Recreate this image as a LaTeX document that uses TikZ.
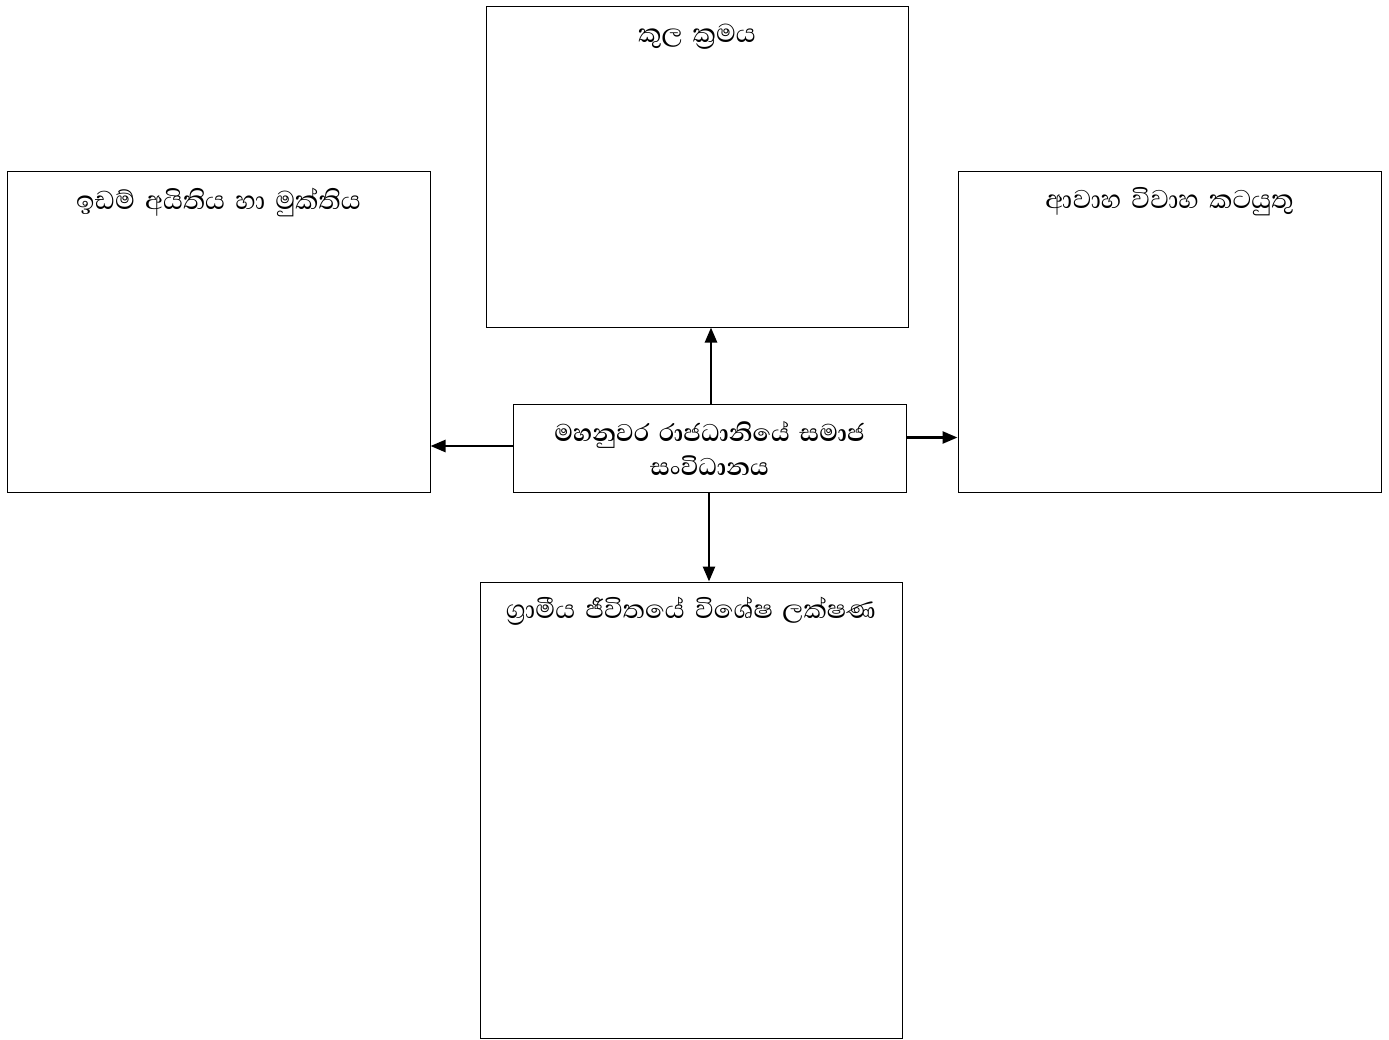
\documentclass[tikz,border=0pt]{standalone}
\usepackage{fontspec}
\newfontfamily\sinfont[Script=Sinhala,WordSpace=1.6]{Abhaya Libre}
\usetikzlibrary{arrows.meta}
\begin{document}
\begin{tikzpicture}[x=1pt,y=-1pt,
  box/.style={draw=black,line width=1pt,rectangle,inner sep=0pt},
  lbl/.style={font=\sinfont\fontsize{33}{38}\selectfont,anchor=north,inner sep=0pt},
  arr/.style={line width=2.5pt,-{Triangle[length=15pt,width=12pt]}}]
\useasboundingbox (0,0) rectangle (1389,1039);
\node[box,minimum width=422pt,minimum height=321pt] (top) at (697,166.5) {};
\node[box,minimum width=423pt,minimum height=321pt] (left) at (218.5,331.5) {};
\node[box,minimum width=423pt,minimum height=321pt] (right) at (1169.5,331.5) {};
\node[box,minimum width=422pt,minimum height=456pt] (bot) at (691,810) {};
\node[box,minimum width=393pt,minimum height=88pt,align=center,
  font=\sinfont\bfseries\fontsize{31}{34}\selectfont] (c) at (709.5,448)
  {මහනුවර රාජධානියේ සමාජ\\සංවිධානය};
\node[lbl] (ttop) at ([yshift=-18pt]top.north) {කුල ක්‍රමය};
\node[lbl] (tleft) at ([yshift=-17pt]left.north) {ඉඩම් අයිතිය හා මුක්තිය};
\node[lbl] (tright) at ([yshift=-17pt]right.north) {ආවාහ විවාහ කටයුතු};
\node[lbl] (tbot) at ([yshift=-15pt]bot.north) {ග්‍රාමීය ජීවිතයේ විශේෂ ලක්ෂණ};
\draw[arr] ([xshift=1.5pt]c.north) -- ([xshift=1.5pt]c.north |- top.south);
\draw[arr] ([yshift=2pt]c.west) -- ([yshift=2pt]c.west -| left.east);
\draw[arr] ([yshift=10.5pt]c.east) -- ([yshift=10.5pt]c.east -| right.west);
\draw[arr] ([xshift=-0.5pt]c.south) -- ([xshift=-0.5pt]c.south |- bot.north);
\end{tikzpicture}
\end{document}
